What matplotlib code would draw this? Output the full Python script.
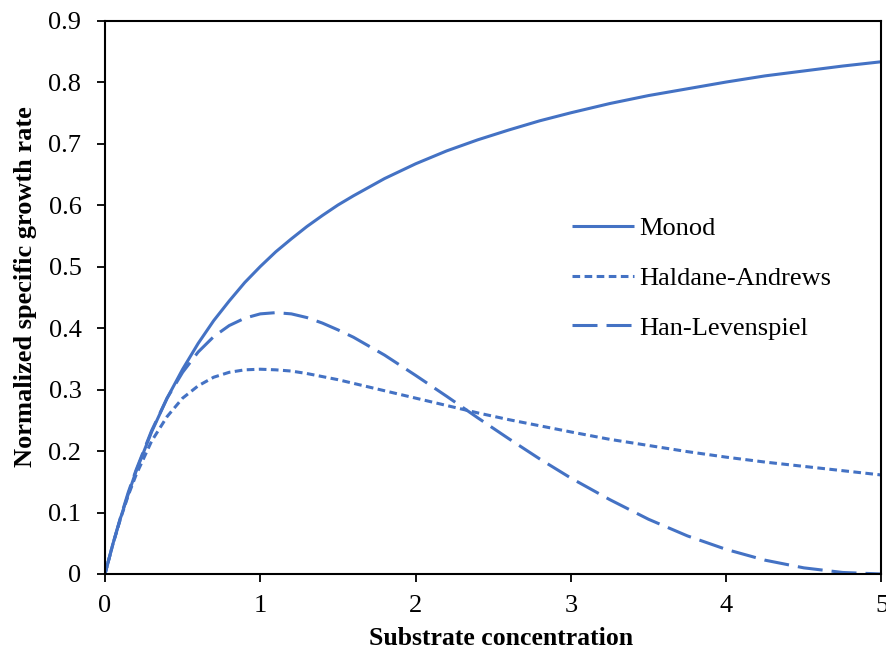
import matplotlib
matplotlib.use("Agg")
import matplotlib.pyplot as plt

substrate = [0, 0.05, 0.1, 0.15, 0.2, 0.3, 0.4, 0.5, 0.6, 0.7, 0.8, 0.9, 1.0, 1.1, 1.2,
             1.3, 1.4, 1.5, 1.6, 1.8, 2.0, 2.2, 2.4, 2.6, 2.8, 3.0, 3.25, 3.5, 3.75,
             4.0, 4.25, 4.5, 4.75, 5.0]
monod = [0, 0.048, 0.091, 0.130, 0.167, 0.231, 0.286, 0.333, 0.375, 0.412, 0.444, 0.474,
         0.500, 0.524, 0.545, 0.565, 0.583, 0.600, 0.615, 0.643, 0.667, 0.688, 0.706,
         0.722, 0.737, 0.750, 0.765, 0.778, 0.789, 0.800, 0.810, 0.818, 0.826, 0.833]
haldane = [0, 0.0475, 0.090, 0.128, 0.161, 0.216, 0.256, 0.286, 0.306, 0.320, 0.328, 0.332,
           0.333, 0.332, 0.330, 0.326, 0.321, 0.316, 0.310, 0.298, 0.286, 0.274, 0.262,
           0.251, 0.241, 0.231, 0.219, 0.209, 0.199, 0.190, 0.182, 0.175, 0.168, 0.161]
han_lev = [0, 0.048, 0.092, 0.133, 0.169, 0.233, 0.286, 0.328, 0.361, 0.386, 0.404, 0.416,
           0.423, 0.425, 0.423, 0.417, 0.408, 0.397, 0.385, 0.356, 0.323, 0.289, 0.254,
           0.220, 0.187, 0.156, 0.121, 0.089, 0.062, 0.040, 0.0225, 0.010, 0.0025, 0]
labels = ["Monod", "Haldane-Andrews", "Han-Levenspiel"]
x_ticks = [0, 1, 2, 3, 4, 5]
y_ticks = [0, 0.1, 0.2, 0.3, 0.4, 0.5, 0.6, 0.7, 0.8, 0.9]
y_tick_labels = ["0", "0.1", "0.2", "0.3", "0.4", "0.5", "0.6", "0.7", "0.8", "0.9"]

plt.rcParams['font.family'] = ['Liberation Serif', 'DejaVu Serif']
plt.rcParams['lines.scale_dashes'] = False

color = '#4472C4'
fig = plt.figure(figsize=(8.86, 6.56), dpi=100)
ax = fig.add_axes([0.1185, 0.125, 0.8764, 0.8437])
ax.set_clip_on(False)

lw = 2.2
ax.plot(substrate, monod, color=color, lw=lw, label=labels[0], solid_capstyle='butt')
ax.plot(substrate, haldane, color=color, lw=lw, label=labels[1], dashes=(5.5, 3.2),
        dash_capstyle='butt')
ax.plot(substrate, han_lev, color=color, lw=lw, label=labels[2], dashes=(18, 6.5),
        dash_capstyle='butt')

ax.set_xlim(0, 5)
ax.set_ylim(0, 0.9)
ax.set_xticks(x_ticks)
ax.set_xticklabels([str(t) for t in x_ticks])
ax.set_yticks(y_ticks)
ax.set_yticklabels(y_tick_labels)
ax.tick_params(axis='both', direction='out', length=6, width=1.3, labelsize=19, colors='black')
ax.tick_params(axis='y', pad=11)
ax.tick_params(axis='x', pad=9)
for s in ax.spines.values():
    s.set_linewidth(1.5)
    s.set_color('black')

ax.set_xlabel("Substrate concentration", fontsize=18.5, fontweight='bold', va='center')
ax.set_ylabel("Normalized specific growth rate", fontsize=19, fontweight='bold', va='center')
ax.xaxis.set_label_coords(0.51, -0.117)
ax.yaxis.set_label_coords(-0.103, 0.5185)

ax.legend(frameon=False, fontsize=19, loc='upper left', bbox_to_anchor=(0.601, 0.646),
          borderpad=0, borderaxespad=0, handlelength=2.35, handletextpad=0.2,
          labelspacing=1.0)

fig.savefig("out.png", dpi=100)
